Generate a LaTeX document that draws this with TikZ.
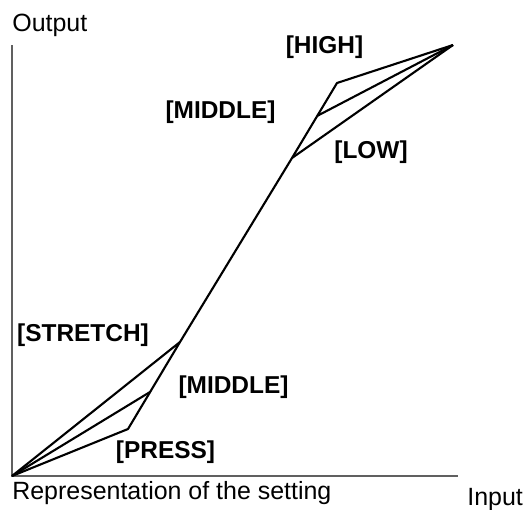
\documentclass[tikz,border=0pt]{standalone}
\usepackage{fontspec}
\setmainfont{Liberation Sans}

\begin{document}
\begin{tikzpicture}[
	axis/.style={line width=1.1pt,gray!75!black},
	curve/.style={line width=1.2pt,line join=round},
	lbl/.style={font=\fontsize{13.9}{16}\selectfont\bfseries,inner sep=0pt},
	txt/.style={font=\fontsize{14.2}{17}\selectfont,inner sep=0pt,anchor=base west}]
	\useasboundingbox (-0.24,-0.66) rectangle (10.28,9.52);
	\coordinate (O) at (0,0);
	\coordinate (ytop) at (0,8.62);
	\coordinate (xend) at (8.92,0);
	\coordinate (T) at (8.82,8.62);
	\coordinate (H) at (6.50,7.86);
	\coordinate (Mup) at (6.10,7.20);
	\coordinate (L) at (5.60,6.36);
	\coordinate (S) at (3.36,2.68);
	\coordinate (Mlo) at (2.76,1.68);
	\coordinate (P) at (2.32,0.94);
	\draw[axis] (ytop) -- (O) -- (xend);
	\draw[curve] (O) -- (S) -- (L) -- (T);
	\draw[curve] (O) -- (Mlo);
	\draw[curve] (O) -- (P) -- (S);
	\draw[curve] (L) -- (H) -- (T);
	\draw[curve] (Mup) -- (T);
	\node[txt] (out) at (0,8.9) {Output};
	\node[txt] (rep) at (0,-0.46) {Representation of the setting};
	\node[txt] (in) at (9.10,-0.58) {Input};
	\node[lbl] (high) at (6.25,8.58) {[HIGH]};
	\node[lbl] (midup) at (4.17,7.28) {[MIDDLE]};
	\node[lbl] (low) at (7.18,6.48) {[LOW]};
	\node[lbl] (stretch) at (1.42,2.81) {[STRETCH]};
	\node[lbl] (midlo) at (4.43,1.78) {[MIDDLE]};
	\node[lbl] (press) at (3.07,0.48) {[PRESS]};
\end{tikzpicture}
\end{document}
